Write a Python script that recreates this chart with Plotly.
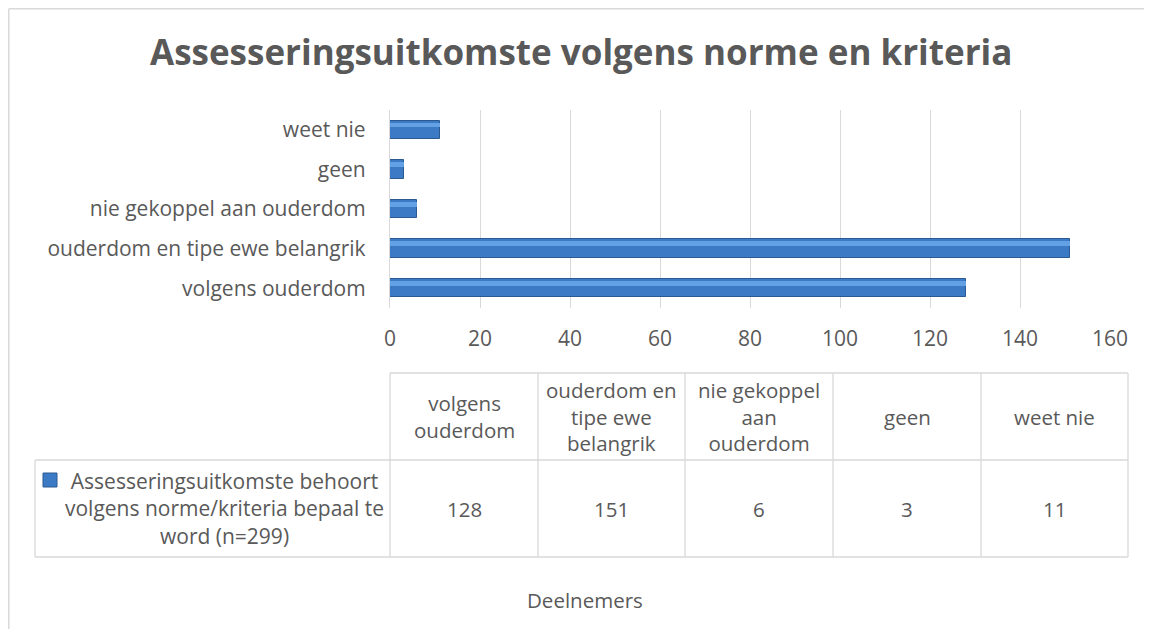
import plotly.graph_objects as go

# ---- data ----
categories = ["volgens ouderdom", "ouderdom en tipe ewe belangrik",
              "nie gekoppel aan ouderdom", "geen", "weet nie"]
values = [128, 151, 6, 3, 11]
table_headers = ["volgens<br>ouderdom", "ouderdom en<br>tipe ewe<br>belangrik",
                 "nie gekoppel<br>aan<br>ouderdom", "geen", "weet nie"]
series_name = "Assesseringsuitkomste behoort<br>volgens norme/kriteria bepaal te<br>word (n=299)"
title_text = "Assesseringsuitkomste volgens norme en kriteria"
axis_title = "Deelnemers"
x_ticks = [0, 20, 40, 60, 80, 100, 120, 140, 160]

# page body has an 8px margin; size the figure so it fits the window
OFF = 8
W, H = 1152 - 2 * OFF, 637 - 2 * OFF
FONT = "Open Sans"
TXT = "#595959"
GRID = "#D9D9D9"
BAR = "#3D7AC6"
BAR_LINE = "#2B5A93"

def px(x):
    return (x - OFF) / W

def py(y):
    return 1 - (y - OFF) / H

fig = go.Figure()
fig.add_trace(go.Bar(y=categories, x=values, orientation="h", width=0.46,
                     marker=dict(color=BAR, line=dict(color=BAR_LINE, width=1)),
                     showlegend=False))
fig.add_trace(go.Bar(y=categories, x=values, orientation="h", width=0.12,
                     offset=0.06,
                     marker=dict(color="#64A0E4", line=dict(width=0)),
                     showlegend=False))

shapes = []
def line(x0, y0, x1, y1, color=GRID, width=1.3):
    shapes.append(dict(type="line", xref="paper", yref="paper",
                       x0=px(x0), y0=py(y0), x1=px(x1), y1=py(y1),
                       line=dict(color=color, width=width)))

# chart border (top + left)
line(8.8, 8.8, 1152, 8.8, width=1.5)
line(8.8, 8.8, 8.8, 637, width=1.5)

# data table
col_edges = [390, 538, 685, 833, 981, 1128]
y_top, y_mid, y_bot = 373, 460, 557
leg_left = 35
line(col_edges[0], y_top, col_edges[-1], y_top)
line(leg_left, y_mid, col_edges[-1], y_mid)
line(leg_left, y_bot, col_edges[-1], y_bot)
line(leg_left, y_mid, leg_left, y_bot)
for xe in col_edges:
    line(xe, y_top, xe, y_bot)

# legend key
shapes.append(dict(type="rect", xref="paper", yref="paper",
                   x0=px(43), x1=px(57), y0=py(487), y1=py(473),
                   fillcolor=BAR, line=dict(color=BAR_LINE, width=1)))

annotations = []
for i, (h, v) in enumerate(zip(table_headers, values)):
    cx = (col_edges[i] + col_edges[i + 1]) / 2
    annotations.append(dict(x=px(cx), y=py((y_top + y_mid) / 2), xref="paper", yref="paper",
                            text=h, showarrow=False, xanchor="center", yanchor="middle",
                            font=dict(family=FONT, size=20.5, color=TXT)))
    annotations.append(dict(x=px(cx), y=py((y_mid + y_bot) / 2), xref="paper", yref="paper",
                            text=str(v), showarrow=False, xanchor="center", yanchor="middle",
                            font=dict(family=FONT, size=20.5, color=TXT)))
annotations.append(dict(x=px(224), y=py((y_mid + y_bot) / 2), xref="paper", yref="paper",
                        text=series_name, showarrow=False, xanchor="center", yanchor="middle",
                        align="center",
                        font=dict(family=FONT, size=21, color=TXT)))
annotations.append(dict(x=px(585), y=py(600), xref="paper", yref="paper",
                        text=axis_title, showarrow=False, xanchor="center", yanchor="middle",
                        font=dict(family=FONT, size=20.5, color=TXT)))
annotations.append(dict(x=px(581), y=py(52), xref="paper", yref="paper",
                        text="<b>" + title_text + "</b>", showarrow=False,
                        xanchor="center", yanchor="middle",
                        font=dict(family=FONT, size=35, color=TXT)))

fig.update_layout(
    width=W, height=H, margin=dict(l=0, r=0, t=0, b=0, autoexpand=False),
    paper_bgcolor="white", plot_bgcolor="white",
    barmode="overlay", bargap=0,
    shapes=shapes, annotations=annotations,
    xaxis=dict(domain=[px(390), px(1110)], range=[0, 160], tickvals=x_ticks,
               automargin=False,
               showgrid=True, gridcolor=GRID, gridwidth=1.3, zeroline=False,
               showline=False, ticks="", ticklabelstandoff=16,
               tickfont=dict(family=FONT, size=21, color=TXT), fixedrange=True),
    yaxis=dict(domain=[py(308), py(110)], type="category", automargin=False,
               categoryorder="array", categoryarray=categories,
               showgrid=False, zeroline=False,
               showline=True, linecolor=GRID, linewidth=1.3,
               ticks="", ticklabelstandoff=19,
               tickfont=dict(family=FONT, size=21, color=TXT)),
)

fig.write_html("out.html")
